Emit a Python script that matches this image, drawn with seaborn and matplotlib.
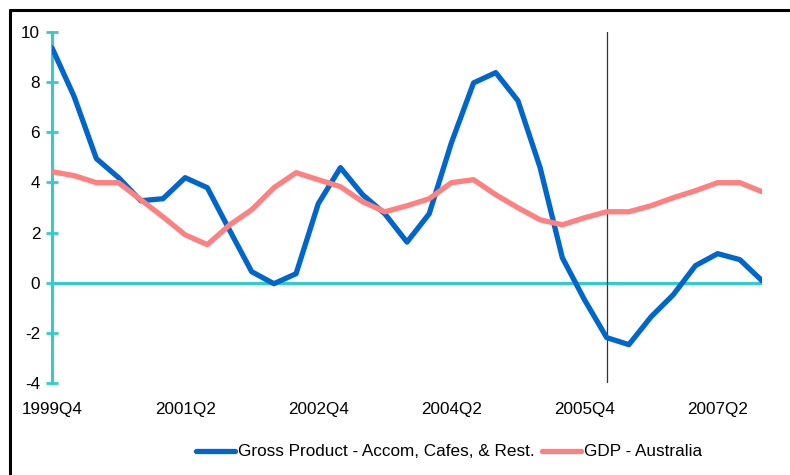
import pandas as pd
import matplotlib
matplotlib.use("Agg")
import matplotlib.pyplot as plt
import seaborn as sns
from matplotlib.lines import Line2D

quarters = ['1999Q4',
            '2000Q1', '2000Q2', '2000Q3', '2000Q4',
            '2001Q1', '2001Q2', '2001Q3', '2001Q4',
            '2002Q1', '2002Q2', '2002Q3', '2002Q4',
            '2003Q1', '2003Q2', '2003Q3', '2003Q4',
            '2004Q1', '2004Q2', '2004Q3', '2004Q4',
            '2005Q1', '2005Q2', '2005Q3', '2005Q4',
            '2006Q1', '2006Q2', '2006Q3', '2006Q4',
            '2007Q1', '2007Q2', '2007Q3', '2007Q4']

accom = [9.37, 7.42, 4.95, 4.19, 3.27, 3.35, 4.19, 3.79, 2.1, 0.44, -0.04, 0.36,
         3.15, 4.59, 3.51, 2.75, 1.62, 2.75, 5.58, 7.97, 8.38, 7.26, 4.59, 1.0,
         -0.68, -2.19, -2.47, -1.36, -0.48, 0.68, 1.16, 0.92, 0.08]

gdp = [4.43, 4.27, 3.99, 3.99, 3.31, 2.63, 1.91, 1.52, 2.3, 2.91, 3.79, 4.39,
       4.11, 3.83, 3.23, 2.83, 3.07, 3.35, 3.99, 4.11, 3.51, 2.99, 2.51, 2.31,
       2.59, 2.83, 2.83, 3.07, 3.39, 3.67, 3.99, 3.99, 3.63]

series_names = ['Gross Product - Accom, Cafes, & Rest.', 'GDP - Australia']
label_every = 6
marker_quarter = '2006Q1'

df = pd.DataFrame({
    'q': list(range(len(quarters))) * 2,
    'value': accom + gdp,
    'series': [series_names[0]] * len(accom) + [series_names[1]] * len(gdp),
})

sns.set_style('white')
plt.rcParams['font.family'] = ['Liberation Sans', 'DejaVu Sans']
plt.rcParams['axes.unicode_minus'] = False
plt.rcParams['text.color'] = 'black'

fig = plt.figure(figsize=(7.9, 4.75), dpi=100)
ax = fig.add_axes([52 / 790, 1 - 383 / 475, 710 / 790, 351 / 475])

cyan = '#33CCCC'
ax.axhline(0, color=cyan, lw=2.2, zorder=1)
ax.vlines(quarters.index(marker_quarter), -4, 10.1, color='#333333', lw=0.9, zorder=2)

sns.lineplot(data=df, x='q', y='value', hue='series', hue_order=series_names,
             palette=['#0066CC', '#FF8080'], lw=3.8, ax=ax, zorder=3)

ax.set_xlim(0, len(quarters) - 1)
ax.set_ylim(-4, 10)
ax.set_xlabel('')
ax.set_ylabel('')

ticks = list(range(0, len(quarters), label_every))
ax.set_xticks(ticks)
ax.set_xticklabels([quarters[i] for i in ticks], fontsize=12.3)
ax.set_yticks(range(-4, 11, 2))
ax.tick_params(axis='y', labelsize=12.3, direction='inout', length=9, width=2,
               color=cyan, labelcolor='black', pad=4, left=True)
ax.tick_params(axis='x', length=0, pad=14, labelcolor='black')

for s in ['top', 'right', 'bottom']:
    ax.spines[s].set_visible(False)
ax.spines['left'].set_color(cyan)
ax.spines['left'].set_linewidth(2.2)

handles, labels = ax.get_legend_handles_labels()
ax.get_legend().remove()
fig.legend(handles, labels, loc='center', bbox_to_anchor=(449 / 790, 1 - 452 / 475),
           ncol=2, frameon=False, fontsize=12.3, handlelength=2.3,
           handletextpad=0.2, columnspacing=0.4, labelcolor='black')

# outer frame (only left and top edges visible in the crop)
fig.add_artist(Line2D([10 / 790, 10 / 790], [0, 1 - 10 / 475], color='black', lw=2.2))
fig.add_artist(Line2D([10 / 790, 1], [1 - 10 / 475, 1 - 10 / 475], color='black', lw=2.2))

fig.savefig('out.png', dpi=100)
